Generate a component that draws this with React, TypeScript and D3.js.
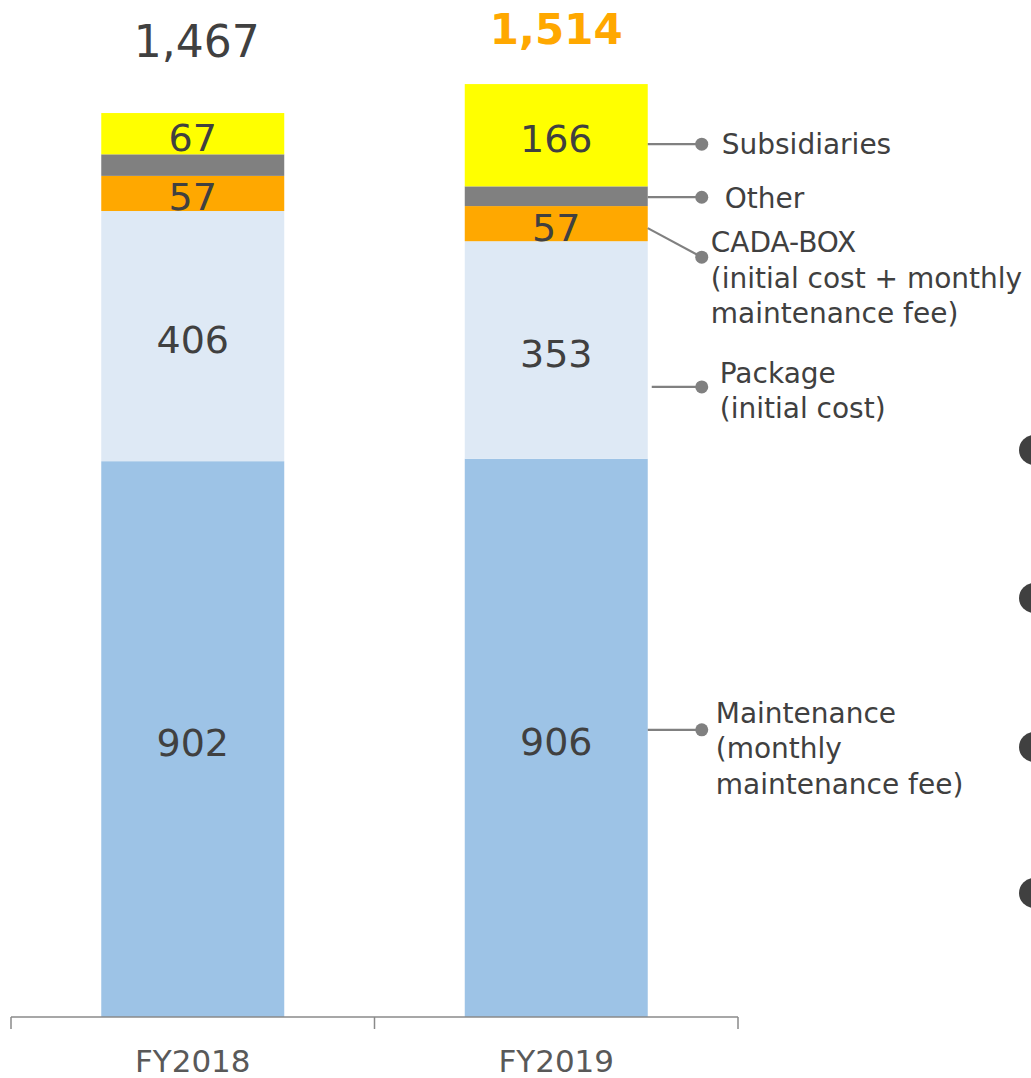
import React from "react";
import * as d3 from "d3";

// Fiscal years and their revenue breakdown (stacked bottom to top)
const years = ["FY2018", "FY2019"];
const segmentKeys = ["maintenance", "package", "cadabox", "other", "subsidiaries"];
const maintenance = [902, 906];
const packageSales = [406, 353];
const cadaBox = [57, 57];
const other = [35, 32];
const subsidiaries = [67, 166];
const totals = [1467, 1514];

const segmentColors: Record<string, string> = {
  maintenance: "#9DC3E6",
  package: "#DEE9F5",
  cadabox: "#FFA800",
  other: "#808080",
  subsidiaries: "#FFFF00",
};
// Segments that carry a value label
const labelled = new Set(["maintenance", "package", "cadabox", "subsidiaries"]);

// Callout texts for the right-hand legend
const calloutText: Record<string, string[]> = {
  subsidiaries: ["Subsidiaries"],
  other: ["Other"],
  cadabox: ["CADA-BOX", "(initial cost + monthly", "maintenance fee)"],
  package: ["Package", "(initial cost)"],
  maintenance: ["Maintenance", "(monthly", "maintenance fee)"],
};

const W = 1031;
const H = 1078;
const baseY = 1017;
const FONT = "'DejaVu Sans', Verdana, sans-serif";

// Callout geometry relative to the segment middle of the last bar
const calloutLayout: Record<string, { startDy: number; dotDy: number; x0: number; textX: number; baseDy: number }> = {
  subsidiaries: { startDy: 9, dotDy: 9, x0: 0, textX: 20, baseDy: 10 },
  other: { startDy: 1, dotDy: 1, x0: 0, textX: 23, baseDy: 11 },
  cadabox: { startDy: 4.5, dotDy: 33.5, x0: 0, textX: 9, baseDy: -5 },
  package: { startDy: 37, dotDy: 37, x0: 4, textX: 18, baseDy: -4 },
  maintenance: { startDy: -8, dotDy: -8, x0: 0, textX: 14, baseDy: -7 },
};
const totalGap = [56, 40];

export default function App() {
  const rows = years.map((year, i) => ({
    year,
    maintenance: maintenance[i],
    package: packageSales[i],
    cadabox: cadaBox[i],
    other: other[i],
    subsidiaries: subsidiaries[i],
  }));
  const series = d3.stack<any>().keys(segmentKeys)(rows);

  const x = d3
    .scaleBand<string>()
    .domain(years)
    .range([11, 738])
    .paddingInner(0.4966)
    .paddingOuter(0.2483);
  const y = d3.scaleLinear().domain([0, 1600]).range([baseY, baseY - 1600 * 0.6162]);

  const bw = x.bandwidth();
  const lastYear = years[years.length - 1];
  const barRight = (x(lastYear) ?? 0) + bw;
  const step = x.step();
  const tickXs = [11, 11 + step, 738];

  return (
    <svg
      width={W}
      height={H}
      style={{ position: "absolute", left: 0, top: 0, background: "#fff" }}
      fontFamily={FONT}
    >
      {/* stacked bars */}
      {series.map((s) =>
        s.map((d, i) => (
          <rect
            key={s.key + i}
            x={x(years[i])}
            y={y(d[1])}
            width={bw}
            height={y(d[0]) - y(d[1])}
            fill={segmentColors[s.key]}
          />
        ))
      )}

      {/* segment value labels */}
      {series.map((s) =>
        labelled.has(s.key)
          ? s.map((d, i) => (
              <text
                key={"l" + s.key + i}
                x={(x(years[i]) ?? 0) + bw / 2}
                y={(y(d[0]) + y(d[1])) / 2 + 17}
                textAnchor="middle"
                fontSize={38}
                fill="#404040"
              >
                {d[1] - d[0]}
              </text>
            ))
          : null
      )}

      {/* totals */}
      {years.map((yr, i) => (
        <text
          key={"t" + yr}
          x={(x(yr) ?? 0) + bw / 2 + (i === 0 ? 4 : 0)}
          y={y(totals[i]) - totalGap[i]}
          textAnchor="middle"
          fontSize={i === years.length - 1 ? 42 : 44}
          fontWeight={i === years.length - 1 ? "bold" : "normal"}
          fill={i === years.length - 1 ? "#FFA800" : "#404040"}
        >
          {d3.format(",")(totals[i])}
        </text>
      ))}

      {/* category axis */}
      <g stroke="#8A8A8A" strokeWidth={1.5}>
        <line x1={11} x2={738} y1={baseY} y2={baseY} />
        {tickXs.map((tx, i) => (
          <line key={"tk" + i} x1={tx} x2={tx} y1={baseY} y2={baseY + 12} />
        ))}
      </g>
      {years.map((yr) => (
        <text
          key={"ax" + yr}
          x={(x(yr) ?? 0) + bw / 2}
          y={baseY + 55}
          textAnchor="middle"
          fontSize={31}
          fill="#595959"
        >
          {yr}
        </text>
      ))}

      {/* callouts for the last bar */}
      {series.map((s) => {
        const d = s[s.length - 1];
        const mid = (y(d[0]) + y(d[1])) / 2;
        const L = calloutLayout[s.key];
        const dotX = barRight + 54;
        const dotY = mid + L.dotDy;
        return (
          <g key={"c" + s.key}>
            <line
              x1={barRight + L.x0}
              y1={mid + L.startDy}
              x2={dotX}
              y2={dotY}
              stroke="#808080"
              strokeWidth={2.2}
            />
            <circle cx={dotX} cy={dotY} r={6.5} fill="#808080" />
            <text x={dotX + L.textX} y={dotY + L.baseDy} fontSize={28} fill="#404040">
              {calloutText[s.key].map((ln, j) => (
                <tspan key={j} x={dotX + L.textX} dy={j === 0 ? 0 : 35.5}>
                  {ln}
                </tspan>
              ))}
            </text>
          </g>
        );
      })}

      {/* bullet markers at the right edge */}
      {[450, 598, 747, 893].map((cy) => (
        <circle key={"b" + cy} cx={1034} cy={cy} r={15} fill="#404040" />
      ))}
    </svg>
  );
}
